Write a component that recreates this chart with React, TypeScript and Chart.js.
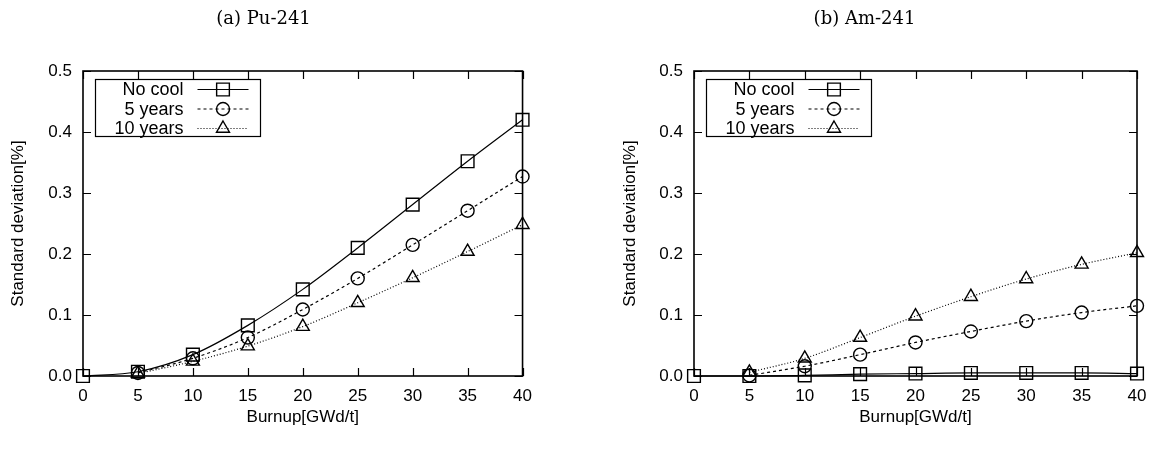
import React, { useEffect, useRef } from "react";
import { Chart, registerables } from "chart.js";

Chart.register(...registerables);

// Burnup steps shared by every series
const burnup = [0, 5, 10, 15, 20, 25, 30, 35, 40];
const seriesNames = ["No cool", "5 years", "10 years"];

// (a) Pu-241 standard deviation [%]
const pu241NoCool = [0, 0.007, 0.035, 0.083, 0.142, 0.21, 0.281, 0.352, 0.42];
const pu241FiveYears = [null, 0.005, 0.029, 0.063, 0.109, 0.16, 0.215, 0.271, 0.327];
const pu241TenYears = [null, 0.004, 0.024, 0.049, 0.081, 0.12, 0.161, 0.204, 0.248];

// (b) Am-241 standard deviation [%]
const am241NoCool = [0, 0.0, 0.001, 0.003, 0.004, 0.005, 0.005, 0.005, 0.004];
const am241FiveYears = [null, 0.001, 0.016, 0.035, 0.055, 0.073, 0.09, 0.104, 0.115];
const am241TenYears = [null, 0.006, 0.029, 0.063, 0.098, 0.13, 0.159, 0.183, 0.202];

const SANS = "'Liberation Sans', Arial, Helvetica, sans-serif";
const SERIF = "'DejaVu Serif', serif";

type Style = { dash: number[]; point: "rect" | "circle" | "triangle"; radius: number };
const styles: Style[] = [
  { dash: [], point: "rect", radius: 9 },
  { dash: [3, 3], point: "circle", radius: 6.5 },
  { dash: [1, 2], point: "triangle", radius: 7.5 },
];

type Panel = {
  title: string;
  series: (number | null)[][];
  left: number;
  width: number;
  plotLeft: number;
  plotRight: number;
  yTitlePad: number;
};

function drawMarker(ctx: CanvasRenderingContext2D, style: Style, x: number, y: number) {
  const r = style.radius;
  ctx.beginPath();
  if (style.point === "rect") {
    const s = r * Math.SQRT1_2;
    ctx.rect(x - s, y - s, 2 * s, 2 * s);
  } else if (style.point === "circle") {
    ctx.arc(x, y, r, 0, Math.PI * 2);
  } else {
    let rad = 0;
    ctx.moveTo(x + Math.sin(rad) * r, y - Math.cos(rad) * r);
    rad += (2 * Math.PI) / 3;
    ctx.lineTo(x + Math.sin(rad) * r, y - Math.cos(rad) * r);
    rad += (2 * Math.PI) / 3;
    ctx.lineTo(x + Math.sin(rad) * r, y - Math.cos(rad) * r);
    ctx.closePath();
  }
  ctx.stroke();
}

// Frame with inward tick marks on all four sides
const framePlugin = {
  id: "frame",
  beforeDatasetsDraw(chart: any) {
    const { ctx, chartArea: a, scales } = chart;
    const tl = 8;
    ctx.save();
    ctx.strokeStyle = "#000";
    ctx.lineWidth = 1.2;
    ctx.beginPath();
    for (const t of scales.x.ticks) {
      const px = Math.round(scales.x.getPixelForValue(t.value)) + 0.5;
      ctx.moveTo(px, a.bottom);
      ctx.lineTo(px, a.bottom - tl);
      ctx.moveTo(px, a.top);
      ctx.lineTo(px, a.top + tl);
    }
    for (const t of scales.y.ticks) {
      const py = Math.round(scales.y.getPixelForValue(t.value)) + 0.5;
      ctx.moveTo(a.left, py);
      ctx.lineTo(a.left + tl, py);
      ctx.moveTo(a.right, py);
      ctx.lineTo(a.right - tl, py);
    }
    ctx.stroke();
    ctx.lineWidth = 1.6;
    ctx.strokeRect(a.left, a.top, a.right - a.left, a.bottom - a.top);
    ctx.restore();
  },
};

// Boxed key in the upper-left corner of the plot
const keyPlugin = {
  id: "key",
  afterDraw(chart: any) {
    const { ctx, chartArea: a } = chart;
    const bx = Math.round(a.left + 12) + 0.5;
    const by = Math.round(a.top + 8) + 0.5;
    ctx.save();
    ctx.strokeStyle = "#000";
    ctx.lineWidth = 1.2;
    ctx.strokeRect(bx, by, 165, 57);
    ctx.font = `18px ${SANS}`;
    ctx.fillStyle = "#000";
    ctx.textAlign = "right";
    ctx.textBaseline = "middle";
    seriesNames.forEach((name, i) => {
      const cy = by + 10 + i * 19.5;
      ctx.fillText(name, bx + 88, cy + 1);
      const st = styles[i];
      ctx.lineWidth = 1.2;
      ctx.setLineDash(st.dash);
      ctx.beginPath();
      ctx.moveTo(bx + 102, cy);
      ctx.lineTo(bx + 153, cy);
      ctx.stroke();
      ctx.setLineDash([]);
      ctx.lineWidth = 1.4;
      drawMarker(ctx, st, bx + 127.5, cy);
    });
    ctx.restore();
  },
};

function ChartPanel({ panel }: { panel: Panel }) {
  const ref = useRef<HTMLCanvasElement | null>(null);

  useEffect(() => {
    if (!ref.current) return;
    const datasets = panel.series.map((vals, i) => ({
      label: seriesNames[i],
      data: burnup.map((b, j) => ({ x: b, y: vals[j] })),
      borderColor: "#000",
      borderWidth: 1.2,
      borderDash: styles[i].dash,
      pointStyle: styles[i].point,
      pointRadius: styles[i].radius,
      pointBorderWidth: 1.4,
      pointBorderColor: "#000",
      pointBackgroundColor: "rgba(0,0,0,0)",
      cubicInterpolationMode: "monotone" as const,
      fill: false,
      clip: false as const,
    }));

    const chart = new Chart(ref.current, {
      type: "line",
      data: { datasets },
      options: {
        animation: false,
        responsive: false,
        layout: { padding: { left: 0, top: 0, bottom: 0, right: panel.width - panel.plotRight } },
        plugins: {
          legend: { display: false },
          tooltip: { enabled: false },
          title: {
            display: true,
            text: panel.title,
            color: "#000",
            font: { family: SERIF, size: 18, weight: "normal" },
            padding: { top: 9, bottom: 40.4 },
          },
        },
        scales: {
          x: {
            type: "linear",
            min: 0,
            max: 40,
            grid: { display: false, drawTicks: false },
            border: { display: false },
            ticks: { stepSize: 5, padding: 10, color: "#000", font: { family: SANS, size: 17 } },
            title: {
              display: true,
              text: "Burnup[GWd/t]",
              color: "#000",
              font: { family: SANS, size: 17 },
              padding: { top: 0, bottom: 22 },
            },
            afterFit: (s: any) => {
              s.height = 74;
            },
          },
          y: {
            type: "linear",
            min: 0,
            max: 0.5,
            grid: { display: false, drawTicks: false },
            border: { display: false },
            ticks: {
              stepSize: 0.1,
              padding: 11,
              color: "#000",
              font: { family: SANS, size: 17 },
              callback: (v: any) => Number(v).toFixed(1),
            },
            title: {
              display: true,
              text: "Standard deviation[%]",
              color: "#000",
              font: { family: SANS, size: 17 },
              padding: { top: panel.yTitlePad, bottom: 0 },
            },
            afterFit: (s: any) => {
              s.width = panel.plotLeft;
            },
          },
        },
      },
      plugins: [framePlugin, keyPlugin],
    });
    return () => chart.destroy();
  }, [panel]);

  return (
    <div style={{ position: "absolute", left: panel.left, top: 0, width: panel.width, height: 450 }}>
      <canvas ref={ref} width={panel.width} height={450} style={{ display: "block" }} />
    </div>
  );
}

const panels: Panel[] = [
  {
    title: "(a) Pu-241",
    series: [pu241NoCool, pu241FiveYears, pu241TenYears],
    left: 0,
    width: 542,
    plotLeft: 83,
    plotRight: 527,
    yTitlePad: 8,
  },
  {
    title: "(b) Am-241",
    series: [am241NoCool, am241FiveYears, am241TenYears],
    left: 592,
    width: 568,
    plotLeft: 102,
    plotRight: 545,
    yTitlePad: 28,
  },
];

export default function App() {
  return (
    <div style={{ position: "fixed", left: 0, top: 0, width: 1160, height: 450, background: "#fff" }}>
      {panels.map((p) => (
        <ChartPanel key={p.title} panel={p} />
      ))}
    </div>
  );
}
